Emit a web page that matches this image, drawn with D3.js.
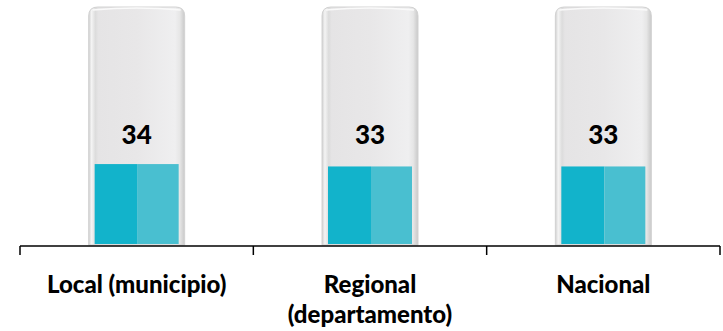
<!DOCTYPE html>
<html><head><meta charset="utf-8">
<script src="https://cdn.jsdelivr.net/npm/d3@7"></script>
<style>html,body{margin:0;padding:0;background:#fff;}svg{display:block;}</style>
</head><body>
<script>
const categories = ["Local (municipio)", "Regional\n(departamento)", "Nacional"];
const values = [34, 33, 33];
const maxValue = 100;

const W = 723, H = 331;
const svg = d3.select("body").append("svg").attr("width", W).attr("height", H);
const defs = svg.append("defs");

const x = d3.scaleBand().domain(categories).range([20, 720]).padding(0);
const y = d3.scaleLinear().domain([0, maxValue]).range([245, 7]);

const g1 = defs.append("linearGradient").attr("id","tube").attr("x1","0").attr("x2","1").attr("y1","0").attr("y2","0");
[["0%","#cfcfcf"],["3%","#f4f4f4"],["7%","#dcdcdc"],["10%","#e5e4e5"],["50%","#e8e7e8"],["90%","#efeff0"],["95%","#e6e6e6"],["100%","#c9c9c9"]]
 .forEach(([o,c]) => g1.append("stop").attr("offset",o).attr("stop-color",c));

const tubeW = 96, fillW = 84;
const root = svg.append("g");

categories.forEach((c, i) => {
  const cx = x(c) + x.bandwidth() / 2;
  const top = y(maxValue), bot = y(0);
  const r = 9;
  const path = `M${cx - tubeW/2},${bot} L${cx - tubeW/2},${top + r} Q${cx - tubeW/2},${top} ${cx - tubeW/2 + r},${top} L${cx + tubeW/2 - r},${top} Q${cx + tubeW/2},${top} ${cx + tubeW/2},${top + r} L${cx + tubeW/2},${bot} Z`;
  root.append("path").attr("d", path).attr("fill", "url(#tube)").attr("stroke", "#d2d2d2").attr("stroke-width", 1);
  root.append("path")
    .attr("d", `M${cx - tubeW/2 + 4},${top + 3} Q${cx},${top - 1} ${cx + tubeW/2 - 4},${top + 3}`)
    .attr("fill","none").attr("stroke","#fafafa").attr("stroke-width",1.5);
  const vy = y(values[i]);
  root.append("rect").attr("x", cx - fillW/2).attr("y", vy).attr("width", fillW/2 + 1).attr("height", bot - 1 - vy).attr("fill", "#12b3cb");
  root.append("rect").attr("x", cx + 1).attr("y", vy).attr("width", fillW/2 - 1).attr("height", bot - 1 - vy).attr("fill", "#49bfd0");
  root.append("text").attr("x", cx).attr("y", y(42.3)).attr("text-anchor","middle")
    .attr("font-family","Lato, 'Open Sans', sans-serif").attr("font-weight","900").attr("font-size", 26)
    .attr("fill","#000").text(values[i]);
});

const axisY = 246;
const ax = svg.append("g");
ax.append("line").attr("x1", 20).attr("x2", 720).attr("y1", axisY).attr("y2", axisY).attr("stroke","#000").attr("stroke-width",1.5);
const tickXs = categories.map(c => x(c)).concat([x.range()[1]]);
ax.selectAll("line.tick").data(tickXs).join("line").attr("class","tick")
  .attr("x1", d => d).attr("x2", d => d).attr("y1", axisY).attr("y2", axisY + 9)
  .attr("stroke","#000").attr("stroke-width",1.5);

categories.forEach(c => {
  const cx = x(c) + x.bandwidth() / 2;
  const t = ax.append("text").attr("text-anchor","middle")
    .attr("font-family","Lato, 'Open Sans', sans-serif").attr("font-weight","900").attr("font-size", 24).attr("fill","#000");
  c.split("\n").forEach((line, k) => {
    t.append("tspan").attr("x", cx).attr("y", 293 + k * 30).text(line);
  });
});
</script>
</body></html>
